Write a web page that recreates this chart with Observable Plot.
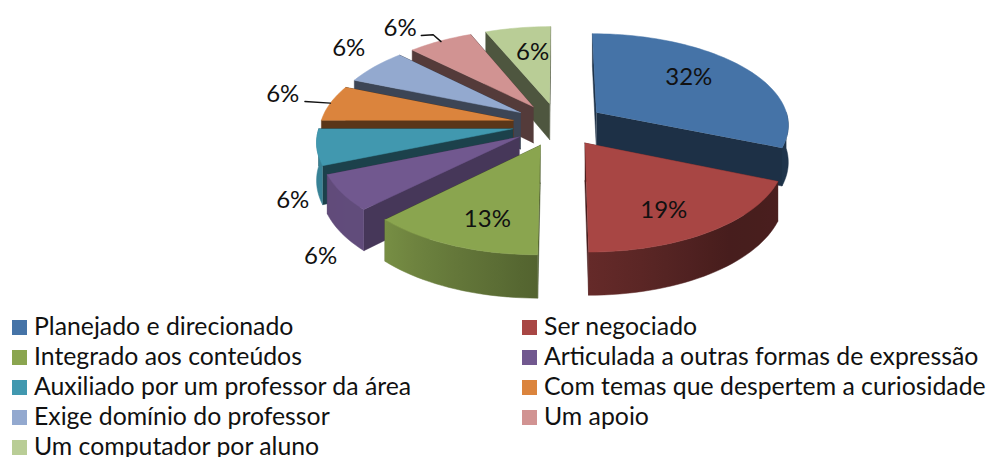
<!DOCTYPE html>
<html>
<head>
<meta charset="utf-8">
<script src="https://cdn.jsdelivr.net/npm/d3@7"></script>
<script src="https://cdn.jsdelivr.net/npm/@observablehq/plot@0.6"></script>
<style>
html,body{margin:0;padding:0;background:#fff;width:987px;height:457px;overflow:hidden}
#legend{position:relative;height:147px;overflow:hidden;font-family:Lato,sans-serif;font-size:24.8px;color:#111}
.item{position:absolute;white-space:nowrap;line-height:30px;height:30px}
.sw{position:absolute;left:0;top:5px;width:15px;height:15px}
.tx{position:absolute;left:22px;top:-4px}
</style>
</head>
<body>
<div id="chart"></div>
<div id="legend"></div>
<script>
const categories = ["Planejado e direcionado","Ser negociado","Integrado aos conteúdos","Articulada a outras formas de expressão","Auxiliado por um professor da área","Com temas que despertem a curiosidade","Exige domínio do professor","Um apoio","Um computador por aluno"];
const shares = [31.25,18.75,12.5,6.25,6.25,6.25,6.25,6.25,6.25];
const pctLabels = ["32%","19%","13%","6%","6%","6%","6%","6%","6%"];
const colors = ["#4573a7","#a84644","#8aa54f","#71588f","#4198af","#db843d","#93a9cf","#d19392","#b9cd96"];
const faceShade = [0.42,0.42,0.5,0.62,0.43,0.41,0.41,0.4,0.42];
// label placement relative to the slice: radius fraction, angle nudge from mid-angle
const labelRadius = [0.667,0.741,0.743,1.392,1.24,1.286,1.284,1.29,0.647];
const labelNudge = [-5,5,-4,-18.6,-23.7,2,4.5,-4.9,2.2];
const leaders = [
  {slice:5, path:[[1,0],[1.14,-0.4]]},
  {slice:7, path:[[0.99,0],[1.10,0.5],[1.13,-2.75]]}
];
const paintOrder = [8,7,6,5,4,3,0,2,1];

// projection of the pie plane
const cx=558, cy=124, R=193, A=91, p=0.12, explode=0.24, H=37;
const rad=d=>d*Math.PI/180;
const total=d3.sum(shares);
const cum=d3.cumsum(shares);
const slices=shares.map((s,i)=>{const a1=cum[i]/total*360,a0=a1-s/total*360;return {i,a0,a1,mid:(a0+a1)/2};});
const ground=(sl,r,deg)=>[explode*Math.sin(rad(sl.mid))+r*Math.sin(rad(deg)),-explode*Math.cos(rad(sl.mid))-r*Math.cos(rad(deg))];
const proj=(sl,r,deg,z=0)=>{const [X,Y]=ground(sl,r,deg);const s=1/(1-p*Y);return {x:cx+R*X*s,y:cy+A*Y*s+z*H*s};};
const wallShade=d3.scaleLinear().domain([0,100,140,180,225,270,360]).range([0.45,0.45,0.42,0.6,0.86,0.85,0.55]);
const tint=(c,k)=>{const q=d3.rgb(c);return d3.rgb(q.r*k,q.g*k,q.b*k).formatHex();};

const polyMarks=[];
const gradients=[];
const add=(pts,fill)=>polyMarks.push(Plot.line(pts,{x:"x",y:"y",fill,stroke:fill,strokeWidth:0.5}));
const arcAngles=(a,b)=>{const n=Math.max(1,Math.ceil((b-a)/2));return d3.range(n+1).map(k=>a+(b-a)*k/n);};
for(const i of paintOrder){
  const sl=slices[i],c=colors[i];
  const fc=tint(c,faceShade[i]);
  for(const a of [sl.a1,sl.a0]){
    add([proj(sl,0,a),proj(sl,1,a),proj(sl,1,a,1),proj(sl,0,a,1)],fc);
  }
  // only the part of the rim that faces the viewer
  const w0=Math.max(sl.a0,90),w1=Math.min(sl.a1,270);
  if(w1>w0){
    const ang=arcAngles(w0,w1);
    const wall=[...ang.map(a=>proj(sl,1,a)),...ang.slice().reverse().map(a=>proj(sl,1,a,1))];
    if(i===0){
      add(wall,tint(c,0.45));
    }else{
      const x1=proj(sl,1,w0).x,x2=proj(sl,1,w1).x;
      const stops=d3.range(11).map(k=>{const a=w0+(w1-w0)*k/10;
        return {off:(proj(sl,1,a).x-x1)/(x2-x1),col:tint(c,wallShade(a))};});
      gradients.push({id:`wall${i}`,x1,x2,stops});
      add(wall,`url(#wall${i})`);
    }
  }
  add([proj(sl,0,sl.a0),...arcAngles(sl.a0,sl.a1).map(a=>proj(sl,1,a))],c);
}
const labelData=slices.map(sl=>({...proj(sl,labelRadius[sl.i],sl.mid+labelNudge[sl.i]),t:pctLabels[sl.i]}));
const leaderData=leaders.flatMap((l,k)=>l.path.map(([r,d])=>({...proj(slices[l.slice],r,slices[l.slice].mid+d),k})));

const chart=Plot.plot({
  width:987,height:310,margin:0,
  x:{domain:[0,987],range:[0,987],axis:null},
  y:{domain:[0,310],range:[0,310],axis:null},
  marks:[
    ...polyMarks,
    Plot.line(leaderData,{x:"x",y:"y",z:"k",stroke:"#111",strokeWidth:1.4}),
    Plot.text(labelData,{x:"x",y:"y",text:"t",fontSize:24,fontFamily:"Lato",fill:"#111"})
  ]
});
chart.style.display="block";
const defs=d3.select(chart).insert("defs",":first-child");
for(const g of gradients){
  const lg=defs.append("linearGradient").attr("id",g.id).attr("gradientUnits","userSpaceOnUse")
    .attr("x1",g.x1).attr("x2",g.x2).attr("y1",0).attr("y2",0);
  g.stops.forEach(s=>lg.append("stop").attr("offset",s.off).attr("stop-color",s.col));
}
document.getElementById("chart").append(chart);

const legend=document.getElementById("legend");
categories.forEach((name,i)=>{
  const el=document.createElement("div");
  el.className="item";
  el.style.left=(i%2?522:12)+"px";
  el.style.top=(5+Math.floor(i/2)*30)+"px";
  el.innerHTML=`<span class="sw" style="background:${colors[i]}"></span><span class="tx"></span>`;
  el.querySelector(".tx").textContent=name;
  legend.append(el);
});
</script>
</body>
</html>
